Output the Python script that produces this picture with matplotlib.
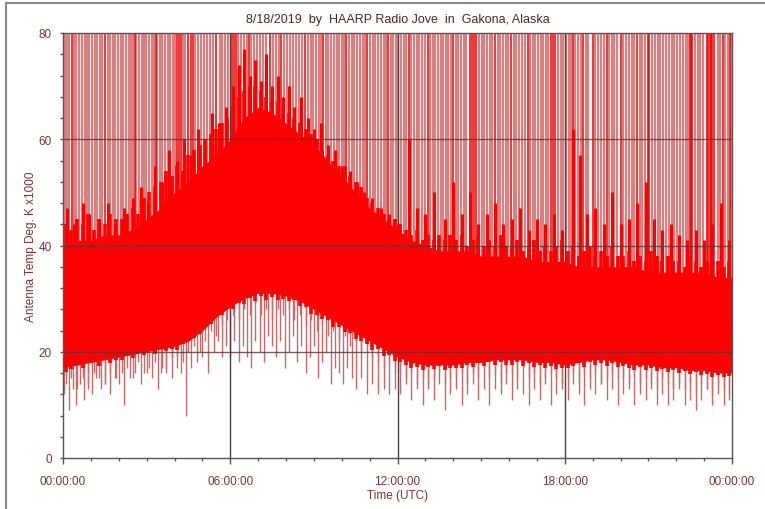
"""
Radio Jove antenna temperature chart, HAARP Gakona 8/18/2019
"""

import matplotlib
matplotlib.use('Agg')
import matplotlib.pyplot as plt
from matplotlib.lines import Line2D
import numpy as np

plt.rcParams['font.family'] = ['Liberation Sans', 'DejaVu Sans']

# envelope of the solid red band, every half hour (hours UTC, K x1000)
band_hours = [i * 0.5 for i in range(49)]
band_top = [40, 41, 41, 42, 42, 43, 45, 47, 50, 52, 55, 57, 60, 64, 66, 65, 63,
            61, 59, 56, 53, 50, 47, 45, 43, 41, 40, 39, 39, 39, 38, 38, 38, 38,
            37, 37, 37, 36, 36, 36, 36, 36, 35, 35, 35, 35, 35, 34, 34]
band_low = [17, 17.5, 18, 18.5, 19, 19.5, 20, 20.5, 21, 22, 24, 26.5, 28.5, 30,
            31, 31, 30.5, 29.5, 28, 26.5, 25, 23.5, 22, 20.5, 19, 18, 17.5, 17.5,
            17.5, 18, 18, 18.5, 18.5, 18.5, 18, 18, 17.5, 18, 18.5, 18.5, 18,
            17.5, 17.5, 17, 17, 16.5, 16.5, 16, 16]

# fuzzy edges of the band, one reading every 12 minutes from 00:06
edge_hours = [0.1 + 0.2 * i for i in range(120)]
edge_top = [44, 43, 45, 44, 46, 43, 45, 44, 46, 45,
            45, 46, 47, 46, 49, 50, 51, 52, 54, 53,
            55, 54, 57, 58, 59, 60, 61, 62, 63, 64,
            66, 68, 69, 70, 70, 69, 68, 67, 67, 65,
            65, 64, 63, 62, 61, 60, 58, 57, 56, 55,
            55, 53, 52, 51, 49, 48, 47, 46, 45, 45,
            44, 43, 42, 43, 41, 42, 41, 42, 41, 42,
            41, 42, 40, 41, 42, 40, 41, 40, 42, 40,
            40, 41, 39, 40, 41, 39, 40, 39, 40, 41,
            39, 40, 38, 39, 40, 38, 39, 38, 40, 38,
            38, 39, 37, 38, 37, 39, 38, 37, 38, 37,
            37, 36, 38, 37, 36, 37, 36, 37, 36, 37]
edge_fringe = [16.2, 16.8, 17.5, 16.9, 17.8, 18.2, 17.4, 18.6, 17.9, 18.4,
               18.5, 19.3, 18.8, 19.9, 19.4, 20.2, 19.6, 20.6, 20.1, 20.5,
               20.4, 21.5, 22.0, 22.6, 23.4, 24.6, 25.3, 26.8, 27.0, 28.1,
               28.0, 29.2, 29.0, 30.1, 29.6, 30.5, 29.8, 30.4, 29.7, 30.0,
               29.5, 29.8, 28.6, 28.4, 27.2, 27.0, 26.1, 25.9, 24.7, 24.6,
               23.8, 23.5, 22.4, 22.0, 21.5, 20.4, 20.5, 19.2, 19.4, 18.3,
               18.0, 17.6, 17.0, 17.2, 16.6, 17.1, 16.8, 17.3, 16.5, 17.0,
               17.0, 16.9, 17.6, 17.2, 17.9, 17.4, 18.0, 17.5, 18.1, 17.6,
               17.6, 18.1, 17.4, 17.9, 17.2, 17.6, 17.0, 17.4, 16.8, 16.9,
               16.9, 17.3, 17.8, 17.2, 18.0, 17.5, 17.9, 17.3, 17.8, 17.2,
               17.3, 17.0, 16.6, 17.1, 16.5, 16.9, 16.3, 16.7, 16.1, 16.5,
               16.0, 16.4, 15.8, 16.2, 15.6, 15.9, 15.3, 15.7, 15.2, 15.5]
edge_low = [14, 15, 13, 15, 14, 16, 15, 14, 16, 15,
            16, 17, 15, 18, 16, 17, 18, 16, 17, 19,
            19, 18, 20, 21, 20, 22, 24, 23, 25, 26,
            27, 26, 28, 27, 29, 27, 28, 26, 28, 27,
            28, 26, 27, 25, 26, 24, 25, 23, 24, 22,
            23, 21, 22, 20, 21, 19, 18, 17, 18, 16,
            16, 15, 16, 14, 15, 14, 15, 16, 14, 15,
            15, 16, 14, 16, 15, 17, 15, 16, 14, 16,
            16, 15, 17, 15, 16, 14, 15, 16, 15, 14,
            15, 16, 14, 16, 15, 16, 14, 15, 16, 15,
            15, 14, 16, 14, 15, 14, 13, 15, 14, 13,
            14, 13, 14, 12, 14, 13, 12, 14, 13, 12]

# spikes going off the top of the scale (minutes after 00:00 UTC)
spike_faint = [4, 9, 13, 24, 29, 35, 41, 47, 52, 57,
               63, 68, 74, 79, 85, 96, 101, 107, 112, 118,
               124, 129, 135, 141, 146, 151, 158, 163, 169, 174, 179,
               185, 191, 196, 203, 208, 214, 219, 225, 231, 237,
               241, 258, 263, 285, 291, 296,
               303, 309, 316, 322, 337, 343, 349, 355,
               377, 383, 389, 395, 405, 412, 418,
               423, 430, 437, 452, 459, 466, 476,
               483, 489, 495, 502, 508, 514, 527, 533, 539,
               545, 551, 556, 566, 571, 577, 583, 589, 595,
               600, 605, 616, 621, 627, 633, 639, 645, 650,
               661, 667, 672, 678, 684, 690, 695, 706, 711, 717,
               722, 727, 733, 738, 750, 756, 761, 767, 773, 779,
               790, 796, 801, 807, 813, 818, 824, 829, 835,
               846, 851, 857, 863, 868, 896, 902, 907, 913, 919, 924,
               936, 941, 947, 953, 958, 971, 976, 982, 988, 994,
               1006, 1011, 1017, 1023, 1029, 1034, 1040, 1045,
               1066, 1072, 1077, 1083, 1089, 1094,
               1103, 1108, 1114, 1126, 1131, 1146, 1152, 1158, 1164,
               1176, 1181, 1187, 1193, 1206, 1212, 1218, 1224, 1229,
               1241, 1247, 1253, 1268, 1274, 1280, 1286, 1292, 1298,
               1304, 1310, 1316, 1322, 1328, 1334, 1340, 1345,
               1360, 1366, 1372, 1378, 1410, 1415, 1426, 1431, 1437]
spike_strong = [20, 90, 155, 200, 245, 250, 254, 270, 275, 280, 330, 364, 368,
                372, 400, 445, 470, 520, 560, 610, 655, 700, 745, 785, 840,
                875, 880, 885, 890, 930, 965, 1000, 1050, 1055, 1060, 1098,
                1120, 1140, 1170, 1200, 1235, 1260, 1262, 1350, 1352, 1354,
                1386, 1389, 1392, 1395, 1398, 1401, 1420, 1435]

# shorter spikes above the band (hours, peak value)
peak_hours = [0.15, 0.4, 0.7, 0.95, 1.3, 1.6, 1.85, 2.2, 2.5, 2.8, 3.05, 3.3,
              3.55, 3.8, 4.1, 4.35, 4.6, 4.85, 5.1, 5.35, 5.6, 5.85, 6.1, 6.3,
              6.5, 6.7, 6.9, 7.1, 7.3, 7.5, 7.7, 7.9, 8.1, 8.3, 8.55, 8.8, 9.0,
              9.25, 9.5, 9.75, 10.0, 10.3, 10.55, 10.8, 11.1, 11.4, 11.7, 12.0,
              12.4, 12.7, 13.0, 13.3, 13.7, 14.0, 14.3, 14.6, 14.9, 15.2, 15.5,
              15.8, 16.1, 16.4, 16.7, 17.0, 17.3, 17.6, 17.9, 18.3, 18.55, 18.8,
              19.1, 19.4, 19.7, 20.0, 20.3, 20.6, 20.9, 21.2, 21.5, 21.8, 22.1,
              22.4, 22.7, 23.0, 23.3, 23.6, 23.9]
peak_vals = [47, 44, 48, 46, 45, 48, 44, 47, 49, 51, 48, 55, 52, 58, 56, 60, 57,
             62, 60, 65, 63, 66, 70, 74, 77, 72, 75, 71, 76, 70, 72, 68, 70, 66,
             68, 64, 62, 63, 59, 58, 55, 54, 52, 50, 49, 47, 46, 44, 60, 47, 46,
             50, 45, 52, 46, 50, 44, 46, 48, 44, 45, 47, 43, 45, 44, 46, 43, 62,
             57, 46, 47, 44, 50, 44, 45, 48, 52, 45, 43, 44, 42, 41, 43, 41, 44,
             48, 41]

# dips below the band (hours, lowest value)
dip_hours = [0.05, 0.2, 0.35, 0.45, 0.6, 0.75, 0.9, 1.05, 1.2, 1.35, 1.5, 1.7,
             1.85, 2.0, 2.2, 2.4, 2.6, 2.8, 3.0, 3.2, 3.4, 3.55, 3.7, 3.9, 4.1,
             4.25, 4.4, 4.6, 4.8, 5.0, 5.2, 5.4, 5.55, 5.7, 5.85, 6.0, 6.15,
             6.3, 6.45, 6.6, 6.75, 6.9, 7.05, 7.2, 7.35, 7.5, 7.65, 7.8, 7.95,
             8.1, 8.25, 8.4, 8.55, 8.7, 8.85, 9.0, 9.15, 9.3, 9.45, 9.6, 9.75,
             9.9, 10.05, 10.2, 10.35, 10.5, 10.7, 10.9, 11.1, 11.3, 11.5, 11.7,
             11.9, 12.1, 12.3, 12.5, 12.7, 12.9, 13.1, 13.3, 13.5, 13.7, 13.9,
             14.1, 14.3, 14.5, 14.7, 14.9, 15.1, 15.3, 15.5, 15.7, 15.9, 16.1,
             16.3, 16.5, 16.7, 16.9, 17.1, 17.3, 17.5, 17.7, 17.9, 18.1, 18.3,
             18.5, 18.7, 18.9, 19.1, 19.3, 19.5, 19.7, 19.9, 20.1, 20.3, 20.5,
             20.7, 20.9, 21.1, 21.3, 21.5, 21.7, 21.9, 22.1, 22.3, 22.5, 22.7,
             22.9, 23.1, 23.3, 23.5, 23.7, 23.9]
dip_vals = [12, 9, 13, 10, 14, 11, 13, 12, 15, 13, 14, 12, 15, 14, 10, 15, 16,
            14, 16, 15, 13, 17, 16, 15, 17, 16, 8, 17, 18, 19, 16, 20, 22, 19,
            21, 19, 22, 18, 21, 19, 17, 22, 20, 18, 23, 21, 19, 22, 17, 20, 23,
            18, 21, 16, 19, 21, 15, 18, 20, 14, 17, 16, 14, 17, 15, 13, 15, 12,
            14, 12, 13, 12, 13, 12, 14, 11, 13, 10, 13, 11, 14, 9, 12, 13, 10,
            12, 14, 11, 13, 10, 13, 12, 14, 11, 13, 12, 10, 13, 11, 14, 10, 12,
            13, 11, 14, 12, 10, 13, 12, 14, 11, 13, 10, 12, 13, 10, 12, 11, 13,
            10, 12, 10, 11, 13, 10, 11, 9, 11, 13, 10, 12, 10, 11]

x_ticks = [0, 6, 12, 18, 24]
x_tick_labels = ['00:00:00', '06:00:00', '12:00:00', '18:00:00', '00:00:00']
y_ticks = [0, 20, 40, 60, 80]

TXT = '#7e3434'

fig = plt.figure(figsize=(7.65, 5.10), dpi=100, facecolor='white')
ax = fig.add_axes([63 / 765, 1 - 459 / 510, 669 / 765, 425 / 510])

hours = np.array(band_hours)
top = np.array(band_top)
low = np.array(band_low)

def band_at(h, arr):
    return np.interp(h, hours, arr)

# spikes to the top of the scale
t_faint = np.array(spike_faint) / 60.0
t_strong = np.array(spike_strong) / 60.0
ax.vlines(t_faint, band_at(t_faint, top) - 2, 90, color='#d98080', lw=1.6, zorder=2)
ax.vlines(t_strong, band_at(t_strong, top) - 2, 90, color='#f00000', lw=1.1, zorder=2)

# shorter peaks and dips
ph = np.array(peak_hours)
ax.vlines(ph, band_at(ph, top) - 2, peak_vals, color='#ff0000', lw=2.2, zorder=3)
dh = np.array(dip_hours)
ax.vlines(dh, dip_vals, band_at(dh, low) + 1, color='#c86868', lw=1.0, zorder=2)

# ragged edges of the band
eh = np.array(edge_hours)
ax.vlines(eh, band_at(eh, top) - 2, edge_top, color='#ff0000', lw=2.6, zorder=3)
ax.vlines(eh, edge_low, band_at(eh, low) + 1, color='#d06a6a', lw=1.0, zorder=2)
ax.vlines(eh, edge_fringe, band_at(eh, low) + 1, color='#ff0000', lw=2.6, zorder=3)

# vertical grid sits behind the band, horizontal grid over it
for v in [6, 12, 18]:
    ax.axvline(v, color='#454545', lw=1, zorder=2.5)

# solid band
ax.fill_between(hours, low, top, color='#ff0000', lw=0, zorder=3)

for v in [20, 40, 60]:
    ax.axhline(v, color='#5a3535', lw=1, alpha=0.8, zorder=5)

ax.set_xlim(0, 24)
ax.set_ylim(0, 80)
ax.set_xticks(x_ticks)
ax.set_xticklabels(x_tick_labels)
ax.set_xticks(range(25), minor=True)
ax.set_yticks(y_ticks)
ax.set_yticks(range(0, 81, 4), minor=True)

ax.tick_params(axis='both', which='both', direction='out', colors='#555555',
               labelcolor=TXT, labelsize=8.5, width=1)
ax.tick_params(axis='x', which='major', length=4, pad=8)
ax.tick_params(axis='x', which='minor', length=2)
ax.tick_params(axis='y', which='both', length=2, pad=6)

for s in ax.spines.values():
    s.set_color('#555555')
    s.set_linewidth(1)
    s.set_zorder(6)

ax.set_title('8/18/2019  by  HAARP Radio Jove  in  Gakona, Alaska',
             fontsize=9, color='#4a2828', pad=8)
ax.set_xlabel('Time (UTC)', fontsize=8.5, color=TXT, labelpad=2)
ax.set_ylabel('Antenna Temp Deg. K x1000', fontsize=8.5, color=TXT, labelpad=1)

# screenshot frame on the left and top
fig.add_artist(Line2D([6 / 765, 6 / 765], [0, 1 - 4 / 510], color='#8a8a8a', lw=1.5))
fig.add_artist(Line2D([6 / 765, 1], [1 - 4 / 510, 1 - 4 / 510], color='#8a8a8a', lw=1.5))

plt.savefig('out.png', dpi=100, facecolor='white')
plt.close(fig)
